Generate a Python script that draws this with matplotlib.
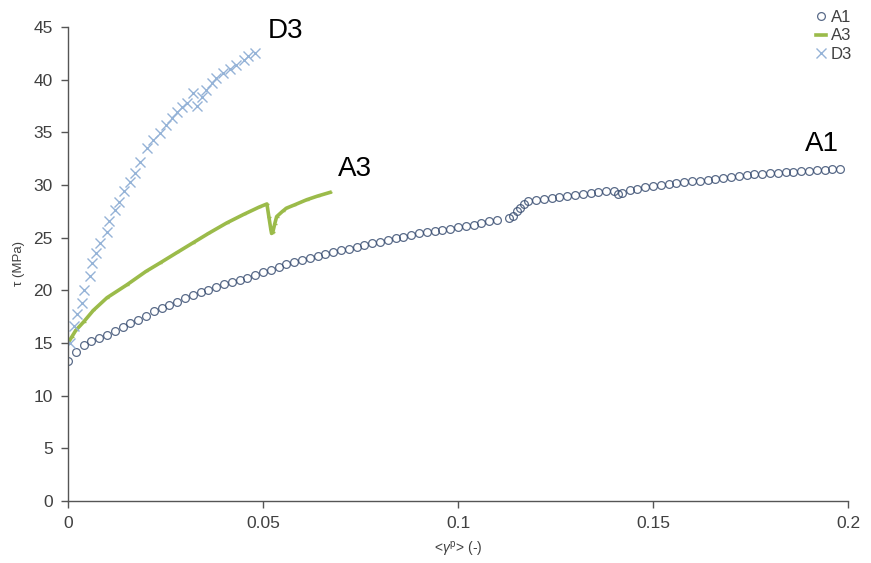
import matplotlib
matplotlib.use("Agg")
import matplotlib.pyplot as plt

plt.rcParams['font.family'] = ['Liberation Sans', 'DejaVu Sans']
plt.rcParams['mathtext.fontset'] = 'custom'
plt.rcParams['mathtext.rm'] = 'Liberation Sans'
plt.rcParams['mathtext.it'] = 'Liberation Sans:italic'

# ---- data ----
a1_x = [0.000, 0.002, 0.004, 0.006, 0.008, 0.010, 0.012, 0.014, 0.016, 0.018,
        0.020, 0.022, 0.024, 0.026, 0.028, 0.030, 0.032, 0.034, 0.036, 0.038,
        0.040, 0.042, 0.044, 0.046, 0.048, 0.050, 0.052, 0.054, 0.056, 0.058,
        0.060, 0.062, 0.064, 0.066, 0.068, 0.070, 0.072, 0.074, 0.076, 0.078,
        0.080, 0.082, 0.084, 0.086, 0.088, 0.090, 0.092, 0.094, 0.096, 0.098,
        0.100, 0.102, 0.104, 0.106, 0.108, 0.110, 0.113, 0.114, 0.115, 0.116,
        0.117, 0.118, 0.120, 0.122, 0.124, 0.126, 0.128, 0.130, 0.132, 0.134,
        0.136, 0.138, 0.140, 0.141, 0.142, 0.144, 0.146, 0.148, 0.150, 0.152,
        0.154, 0.156, 0.158, 0.160, 0.162, 0.164, 0.166, 0.168, 0.170, 0.172,
        0.174, 0.176, 0.178, 0.180, 0.182, 0.184, 0.186, 0.188, 0.190, 0.192,
        0.194, 0.196, 0.198]
a1_y = [13.3, 14.1, 14.8, 15.2, 15.5, 15.8, 16.1, 16.5, 16.9, 17.2,
        17.6, 18.0, 18.3, 18.6, 18.9, 19.25, 19.6, 19.8, 20.05, 20.35,
        20.6, 20.8, 21.0, 21.2, 21.45, 21.7, 21.95, 22.2, 22.5, 22.7,
        22.9, 23.1, 23.3, 23.45, 23.6, 23.8, 23.95, 24.1, 24.3, 24.45,
        24.6, 24.8, 24.95, 25.1, 25.25, 25.4, 25.5, 25.6, 25.75, 25.85,
        26.0, 26.1, 26.25, 26.4, 26.55, 26.7, 26.85, 27.1, 27.5, 27.8,
        28.2, 28.45, 28.6, 28.7, 28.8, 28.9, 29.0, 29.05, 29.15, 29.25,
        29.3, 29.4, 29.45, 29.1, 29.2, 29.5, 29.65, 29.8, 29.9, 30.0,
        30.1, 30.2, 30.3, 30.35, 30.4, 30.45, 30.55, 30.65, 30.75, 30.85,
        30.95, 31.0, 31.05, 31.1, 31.15, 31.2, 31.25, 31.3, 31.35, 31.4,
        31.45, 31.5, 31.55]

a3_x = [0.000, 0.001, 0.002, 0.004, 0.0065, 0.010, 0.015, 0.020, 0.0236, 0.028,
        0.032, 0.036, 0.0407, 0.045, 0.049, 0.051, 0.0515, 0.052, 0.0522, 0.0525,
        0.053, 0.0535, 0.055, 0.056, 0.058, 0.0612, 0.064, 0.0672]
a3_y = [15.0, 15.6, 16.2, 17.0, 18.1, 19.3, 20.5, 21.8, 22.6, 23.6,
        24.5, 25.4, 26.4, 27.2, 27.9, 28.2, 27.0, 25.8, 25.4, 25.5,
        26.3, 27.0, 27.5, 27.8, 28.1, 28.6, 28.95, 29.3]

d3_x = [0.0005, 0.0015, 0.0024, 0.0035, 0.0040, 0.0056, 0.0062, 0.0072, 0.0082, 0.0099,
        0.0106, 0.0120, 0.0132, 0.0144, 0.0159, 0.0172, 0.0185, 0.0203, 0.0219, 0.0236,
        0.0251, 0.0266, 0.0279, 0.0292, 0.0304, 0.0320, 0.0330, 0.0343, 0.0355, 0.0368,
        0.0380, 0.0397, 0.0415, 0.0432, 0.0450, 0.0462, 0.0480]
d3_y = [15.0, 16.6, 17.8, 18.8, 20.0, 21.4, 22.6, 23.5, 24.5, 25.5,
        26.6, 27.6, 28.4, 29.4, 30.3, 31.1, 32.2, 33.5, 34.3, 34.9,
        35.7, 36.4, 36.9, 37.4, 37.8, 38.7, 37.5, 38.4, 39.0, 39.7,
        40.2, 40.6, 41.0, 41.4, 41.9, 42.2, 42.5]

x_ticks = [0, 0.05, 0.1, 0.15, 0.2]
x_tick_labels = ['0', '0.05', '0.1', '0.15', '0.2']
y_ticks = [0, 5, 10, 15, 20, 25, 30, 35, 40, 45]

# ---- figure ----
fig = plt.figure(figsize=(8.71, 5.63), dpi=100)
ax = fig.add_axes([68/871, 1 - 501/563, (848 - 68)/871, (501 - 27)/563])

c_a1 = '#3d5174'
c_a3 = '#9bbb4a'
c_d3 = '#95b3d7'

ax.plot(a1_x, a1_y, linestyle='none', marker='o', markersize=5.6,
        markerfacecolor='none', markeredgecolor=c_a1, markeredgewidth=0.9,
        alpha=0.85, label='A1')
ax.plot(a3_x, a3_y, linestyle='-', linewidth=2.6, color=c_a3,
        marker='_', markersize=3, label='A3')
ax.plot(d3_x, d3_y, linestyle='none', marker='x', markersize=6.5,
        markeredgewidth=1.0, color=c_d3, label='D3')

ax.set_xlim(0, 0.2)
ax.set_ylim(0, 45)
ax.set_xticks(x_ticks)
ax.set_xticklabels(x_tick_labels)
ax.set_yticks(y_ticks)

for s in ['top', 'right']:
    ax.spines[s].set_visible(False)
for s in ['left', 'bottom']:
    ax.spines[s].set_color('#555555')
    ax.spines[s].set_linewidth(1.0)

ax.tick_params(direction='out', length=5, width=1.0, color='#555555',
               labelsize=12.5, labelcolor='#404040', pad=6)

ax.set_ylabel('τ (MPa)', fontsize=9.5, color='#404040', labelpad=6)
ax.set_xlabel(r'<$\gamma^{\rm p}$> (-)', fontsize=10, color='#404040', labelpad=6)

ax.text(0.0513, 44.0, 'D3', fontsize=20, color='black', va='baseline')
ax.text(0.0692, 30.9, 'A3', fontsize=20, color='black', va='baseline')
ax.text(0.189, 33.2, 'A1', fontsize=20, color='black', va='baseline')

leg = fig.legend(loc='upper right', bbox_to_anchor=(0.99, 1.0), frameon=False,
                 fontsize=12, handlelength=0.6, handletextpad=0.3,
                 labelspacing=0.2, borderaxespad=0.2)
for t in leg.get_texts():
    t.set_color('#404040')

fig.savefig('out.png', dpi=100)
